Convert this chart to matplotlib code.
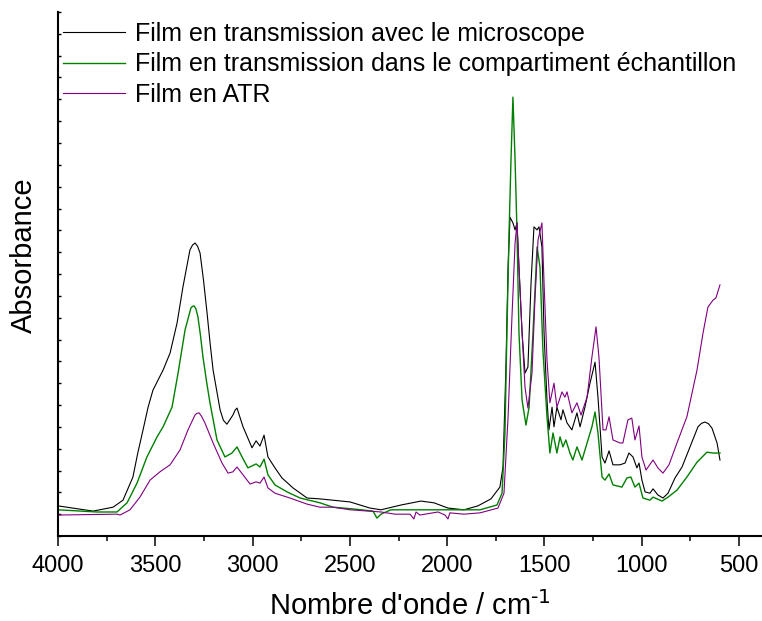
import matplotlib
matplotlib.use("Agg")
import matplotlib.pyplot as plt
from matplotlib.ticker import MultipleLocator

plt.rcParams["font.family"] = ["Liberation Sans", "DejaVu Sans"]
plt.rcParams["mathtext.default"] = "regular"

# Spectres (nombre d'onde en cm-1, absorbance en u.a.)
wn_micro = [4000, 3820, 3717, 3666, 3615, 3590, 3563, 3537, 3512, 3460, 3424,
            3388, 3358, 3322, 3309, 3296, 3283, 3270, 3252, 3234, 3218, 3203,
            3167, 3150, 3132, 3101, 3090, 3080, 3065, 3049, 3003, 2982, 2962,
            2941, 2921, 2885, 2849, 2792, 2720, 2654, 2499, 2397, 2340, 2237,
            2135, 2068, 1996, 1914, 1842, 1775, 1729, 1713, 1698, 1687, 1677,
            1662, 1651, 1641, 1631, 1615, 1600, 1585, 1569, 1554, 1538, 1528,
            1513, 1502, 1487, 1477, 1461, 1451, 1436, 1415, 1405, 1384, 1359,
            1333, 1317, 1292, 1266, 1240, 1225, 1204, 1189, 1168, 1148, 1112,
            1086, 1066, 1045, 1025, 1014, 999, 983, 958, 942, 917, 891, 865,
            829, 793, 752, 711, 693, 675, 657, 639, 613, 598]
abs_micro = [0.069, 0.057, 0.066, 0.082, 0.135, 0.190, 0.243, 0.295, 0.334,
             0.380, 0.419, 0.488, 0.570, 0.655, 0.666, 0.671, 0.664, 0.648,
             0.585, 0.511, 0.440, 0.380, 0.289, 0.265, 0.256, 0.277, 0.288,
             0.293, 0.272, 0.250, 0.202, 0.218, 0.206, 0.231, 0.181, 0.156,
             0.133, 0.110, 0.087, 0.085, 0.078, 0.064, 0.060, 0.071, 0.080,
             0.076, 0.064, 0.060, 0.069, 0.085, 0.112, 0.158, 0.387, 0.616,
             0.730, 0.717, 0.701, 0.717, 0.616, 0.465, 0.373, 0.387, 0.579,
             0.708, 0.701, 0.708, 0.662, 0.465, 0.311, 0.243, 0.295, 0.250,
             0.295, 0.266, 0.289, 0.259, 0.243, 0.282, 0.250, 0.295, 0.350,
             0.398, 0.318, 0.181, 0.167, 0.195, 0.163, 0.163, 0.167, 0.190,
             0.181, 0.156, 0.167, 0.128, 0.101, 0.098, 0.108, 0.094, 0.087,
             0.098, 0.133, 0.158, 0.204, 0.250, 0.258, 0.261, 0.257, 0.247,
             0.213, 0.174]

wn_compart = [4000, 3800, 3697, 3645, 3594, 3543, 3491, 3460, 3414, 3383, 3347,
              3317, 3309, 3301, 3291, 3281, 3268, 3255, 3237, 3219, 3183, 3142,
              3106, 3080, 3054, 3024, 2982, 2962, 2941, 2921, 2885, 2823, 2756,
              2654, 2587, 2484, 2381, 2361, 2340, 2289, 2171, 1914, 1831, 1744,
              1718, 1703, 1693, 1682, 1672, 1662, 1651, 1641, 1631, 1615, 1595,
              1579, 1559, 1538, 1523, 1508, 1487, 1472, 1456, 1436, 1420, 1405,
              1390, 1369, 1354, 1333, 1307, 1281, 1256, 1240, 1225, 1204, 1189,
              1168, 1148, 1102, 1076, 1056, 1035, 1014, 994, 958, 942, 896, 865,
              819, 768, 716, 665, 634, 598]
abs_compart = [0.060, 0.055, 0.055, 0.076, 0.121, 0.181, 0.227, 0.250, 0.295,
               0.373, 0.472, 0.522, 0.526, 0.527, 0.520, 0.502, 0.460, 0.410,
               0.355, 0.305, 0.220, 0.181, 0.190, 0.204, 0.181, 0.156, 0.165,
               0.158, 0.176, 0.140, 0.117, 0.101, 0.087, 0.076, 0.066, 0.062,
               0.057, 0.041, 0.050, 0.060, 0.060, 0.060, 0.060, 0.071, 0.098,
               0.236, 0.465, 0.694, 0.861, 1.005, 0.861, 0.694, 0.465, 0.311,
               0.254, 0.295, 0.465, 0.662, 0.616, 0.426, 0.273, 0.190, 0.236,
               0.190, 0.227, 0.204, 0.220, 0.190, 0.174, 0.204, 0.174, 0.213,
               0.250, 0.284, 0.236, 0.135, 0.128, 0.142, 0.117, 0.112, 0.133,
               0.135, 0.112, 0.121, 0.087, 0.082, 0.089, 0.080, 0.089, 0.105,
               0.135, 0.169, 0.192, 0.190, 0.190]

wn_atr = [4000, 3697, 3681, 3630, 3579, 3527, 3476, 3424, 3373, 3332, 3296,
          3286, 3275, 3262, 3245, 3203, 3157, 3126, 3101, 3080, 3049, 3013,
          2982, 2962, 2941, 2921, 2885, 2808, 2720, 2654, 2587, 2499, 2340,
          2268, 2191, 2171, 2160, 2140, 2047, 2011, 1996, 1986, 1914, 1831,
          1739, 1708, 1687, 1667, 1651, 1641, 1631, 1615, 1600, 1585, 1564,
          1549, 1533, 1513, 1502, 1487, 1472, 1451, 1436, 1410, 1395, 1384,
          1359, 1333, 1312, 1281, 1256, 1235, 1220, 1199, 1184, 1168, 1148,
          1112, 1097, 1071, 1051, 1035, 1014, 999, 978, 942, 917, 891, 860,
          819, 768, 716, 685, 660, 634, 619, 598]
abs_atr = [0.048, 0.050, 0.048, 0.060, 0.089, 0.128, 0.147, 0.163, 0.197,
           0.243, 0.277, 0.281, 0.282, 0.274, 0.259, 0.213, 0.167, 0.144,
           0.147, 0.158, 0.140, 0.119, 0.124, 0.121, 0.135, 0.110, 0.098,
           0.087, 0.073, 0.066, 0.066, 0.060, 0.055, 0.050, 0.050, 0.039,
           0.055, 0.048, 0.055, 0.048, 0.039, 0.053, 0.050, 0.053, 0.064,
           0.098, 0.273, 0.502, 0.671, 0.717, 0.616, 0.465, 0.341, 0.293,
           0.373, 0.540, 0.678, 0.717, 0.579, 0.403, 0.305, 0.350, 0.295,
           0.330, 0.318, 0.330, 0.282, 0.305, 0.277, 0.318, 0.410, 0.479,
           0.410, 0.243, 0.243, 0.273, 0.220, 0.213, 0.213, 0.266, 0.270,
           0.220, 0.252, 0.181, 0.151, 0.174, 0.156, 0.144, 0.163, 0.213,
           0.273, 0.380, 0.465, 0.524, 0.540, 0.545, 0.575]

labels = ["Film en transmission avec le microscope",
          "Film en transmission dans le compartiment échantillon",
          "Film en ATR"]

fig = plt.figure(figsize=(7.62, 6.21), dpi=100)
ax = fig.add_axes([58 / 762, 85 / 621, 1 - 58 / 762, 524 / 621])

ax.plot(wn_micro, abs_micro, color="black", lw=0.8, label=labels[0])
ax.plot(wn_compart, abs_compart, color="#008000", lw=1.0, label=labels[1])
ax.plot(wn_atr, abs_atr, color="#800080", lw=0.8, label=labels[2])

ax.set_xlim(4000, 382)
ax.set_ylim(0, 1.2)
ax.xaxis.set_major_locator(MultipleLocator(500))
ax.xaxis.set_minor_locator(MultipleLocator(250))
ax.yaxis.set_major_locator(MultipleLocator(0.05))
ax.tick_params(axis="x", which="major", direction="out", length=7.5,
               width=1.1, labelsize=17, pad=6)
ax.tick_params(axis="x", which="minor", direction="out", length=3.8, width=1.1)
ax.tick_params(axis="y", which="major", direction="in", length=2.5,
               width=1.0, labelleft=False)
for side in ("top", "right"):
    ax.spines[side].set_visible(False)
for side in ("left", "bottom"):
    ax.spines[side].set_linewidth(1.5)

ax.set_xlabel(r"Nombre d'onde / cm$^{\text{-1}}$", fontsize=21, labelpad=10)
ax.set_ylabel("Absorbance", fontsize=21)
ax.yaxis.set_label_coords(-0.028, 0.536)

ax.legend(loc="upper left", bbox_to_anchor=(0.0, 0.99), frameon=False,
          fontsize=18, handlelength=2.48, handletextpad=0.4,
          labelspacing=0.25, borderaxespad=0.0, borderpad=0.2)

fig.savefig("out.png", dpi=100)
